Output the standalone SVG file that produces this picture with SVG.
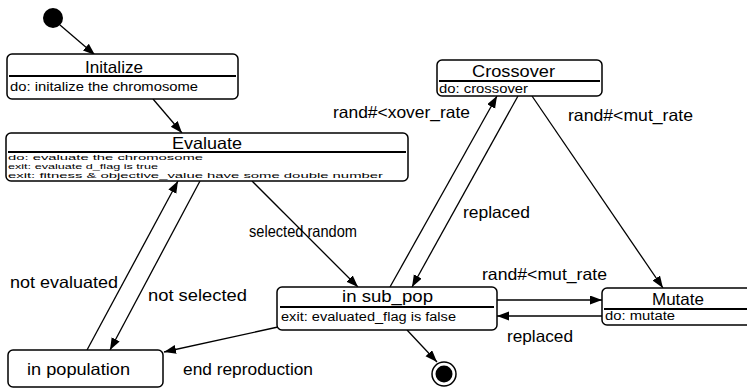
<svg xmlns="http://www.w3.org/2000/svg" width="747" height="390" viewBox="0 0 747 390">
  <style>
    text { font-family: "Liberation Sans", Arial, Helvetica, sans-serif; fill: #000; }
    .title { font-size: 16.5px; }
    .body { font-size: 12.5px; }
    .small { font-size: 8px; }
    .lbl { font-size: 16.5px; }
    .box { fill: #fff; stroke: #000; stroke-width: 1.5; }
    .div { stroke: #000; stroke-width: 2; }
    .conn line { stroke: #000; stroke-width: 1.3; fill: none; marker-end: url(#arrow); }
  </style>
  <defs>
    <marker id="arrow" markerUnits="userSpaceOnUse" markerWidth="13" markerHeight="10" refX="12" refY="4.5" orient="auto">
      <path d="M0,0 L12,4.5 L0,9 Z" fill="#000"/>
    </marker>
  </defs>

  <rect width="747" height="390" fill="#fff"/>

  <!-- connectors -->
  <g id="connectors" class="conn">
    <line x1="60" y1="25" x2="95" y2="55"/>
    <line x1="153" y1="99" x2="182" y2="133"/>
    <line x1="252" y1="181" x2="358" y2="287"/>
    <line x1="87" y1="350" x2="178" y2="181"/>
    <line x1="200" y1="181" x2="110" y2="350"/>
    <line x1="390" y1="287" x2="497" y2="96"/>
    <line x1="518" y1="96" x2="412" y2="287"/>
    <line x1="532" y1="96" x2="663" y2="288"/>
    <line x1="497" y1="300" x2="602" y2="300"/>
    <line x1="602" y1="316" x2="497" y2="316"/>
    <line x1="278" y1="327" x2="164" y2="352"/>
    <line x1="407" y1="330" x2="437" y2="362"/>
  </g>

  <!-- initial state -->
  <g id="start">
    <circle cx="53" cy="18" r="10" fill="#000"/>
  </g>

  <g id="initalize">
    <rect class="box" x="7" y="54" width="231" height="45" rx="5"/>
    <line class="div" x1="9" y1="76" x2="236" y2="76"/>
    <text class="title" x="85" y="73" textLength="58" lengthAdjust="spacingAndGlyphs">Initalize</text>
    <text class="body" x="10" y="91" textLength="188" lengthAdjust="spacingAndGlyphs">do: initalize the chromosome</text>
  </g>

  <g id="evaluate">
    <rect class="box" x="6" y="133" width="402" height="48" rx="5"/>
    <line class="div" x1="8" y1="152" x2="406" y2="152"/>
    <text class="title" x="172" y="149" textLength="70" lengthAdjust="spacingAndGlyphs">Evaluate</text>
    <text class="small" x="8" y="160" textLength="195" lengthAdjust="spacingAndGlyphs">do: evaluate the chromosome</text>
    <text class="small" x="8" y="169" textLength="150" lengthAdjust="spacingAndGlyphs">exit: evaluate d_flag is true</text>
    <text class="small" x="8" y="178" textLength="375" lengthAdjust="spacingAndGlyphs">exit: fitness &amp; objective_value have some double number</text>
  </g>

  <g id="crossover">
    <rect class="box" x="437" y="60" width="165" height="36" rx="5"/>
    <line class="div" x1="439" y1="81" x2="600" y2="81"/>
    <text class="title" x="472" y="77" textLength="83" lengthAdjust="spacingAndGlyphs">Crossover</text>
    <text class="body" x="439" y="93" textLength="89" lengthAdjust="spacingAndGlyphs">do: crossover</text>
  </g>

  <g id="in_sub_pop">
    <rect class="box" x="277" y="287" width="220" height="43" rx="5"/>
    <line class="div" x1="280" y1="307" x2="494" y2="307"/>
    <text class="title" x="342" y="302" textLength="91" lengthAdjust="spacingAndGlyphs">in sub_pop</text>
    <text class="body" x="281" y="321" textLength="175" lengthAdjust="spacingAndGlyphs">exit: evaluated_flag is false</text>
  </g>

  <g id="mutate">
    <rect class="box" x="602" y="288" width="160" height="37" rx="5"/>
    <line class="div" x1="604" y1="309" x2="747" y2="309"/>
    <text class="title" x="652" y="305" textLength="52" lengthAdjust="spacingAndGlyphs">Mutate</text>
    <text class="body" x="605" y="320" textLength="70" lengthAdjust="spacingAndGlyphs">do: mutate</text>
  </g>

  <g id="in_population">
    <rect class="box" x="8" y="350" width="155" height="37" rx="5"/>
    <text class="lbl" x="27" y="375" textLength="103" lengthAdjust="spacingAndGlyphs">in population</text>
  </g>

  <!-- final state -->
  <g id="end">
    <circle cx="444" cy="374" r="12" fill="#fff" stroke="#000" stroke-width="1.5"/>
    <circle cx="444" cy="374" r="8.5" fill="#000"/>
  </g>

  <!-- transition labels -->
  <g id="labels">
    <text class="lbl" x="333" y="118" textLength="137" lengthAdjust="spacingAndGlyphs">rand#&lt;xover_rate</text>
    <text class="lbl" x="568" y="121" textLength="125" lengthAdjust="spacingAndGlyphs">rand#&lt;mut_rate</text>
    <text class="lbl" x="463" y="218" textLength="67" lengthAdjust="spacingAndGlyphs">replaced</text>
    <text class="lbl" x="249" y="237" textLength="108" lengthAdjust="spacingAndGlyphs">selected random</text>
    <text class="lbl" x="10" y="288" textLength="108" lengthAdjust="spacingAndGlyphs">not evaluated</text>
    <text class="lbl" x="148" y="301" textLength="99" lengthAdjust="spacingAndGlyphs">not selected</text>
    <text class="lbl" x="482" y="280" textLength="125" lengthAdjust="spacingAndGlyphs">rand#&lt;mut_rate</text>
    <text class="lbl" x="507" y="342" textLength="66" lengthAdjust="spacingAndGlyphs">replaced</text>
    <text class="lbl" x="183" y="375" textLength="130" lengthAdjust="spacingAndGlyphs">end reproduction</text>
  </g>
</svg>
